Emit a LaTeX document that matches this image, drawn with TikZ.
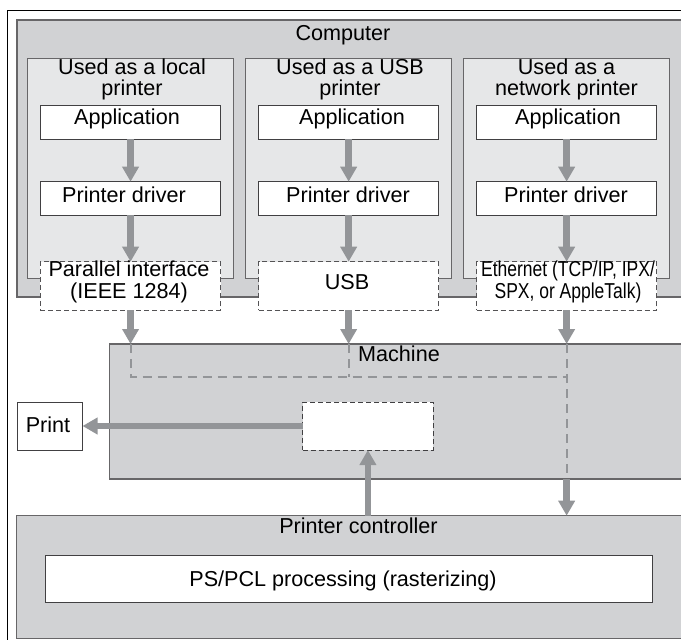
\documentclass[tikz,border=0pt]{standalone}
\usepackage{fontspec}
\setmainfont{Liberation Sans}
\usetikzlibrary{arrows.meta}
\definecolor{cgray}{HTML}{D1D2D4}
\definecolor{lgray}{HTML}{E6E7E8}
\definecolor{agray}{HTML}{939598}
\definecolor{bdark}{HTML}{414042}
\begin{document}
\begin{tikzpicture}[x=1pt,y=-1pt,
  every node/.style={inner sep=0pt,outer sep=0pt},
  txt/.style={font=\fontsize{21.6}{21.5}\selectfont,anchor=base,align=center},
  bx/.style={anchor=north west,draw=bdark,line width=1pt},
  graybox/.style={bx,fill=cgray,draw=bdark!80,line width=1.2pt},
  subbox/.style={bx,fill=lgray,draw=bdark!80,minimum width=206pt,minimum height=220.4pt},
  whitebox/.style={bx,fill=white,minimum width=180.3pt,minimum height=33.6pt},
  ifbox/.style={bx,fill=white,dash pattern=on 5pt off 3pt,draw=bdark!90,minimum width=180.3pt,minimum height=48.3pt},
  arr/.style={draw=agray,line width=6.5pt,-{Triangle[width=16pt,length=15pt]}},
  dsh/.style={draw=agray,line width=2pt,dash pattern=on 9pt off 6pt}]
\useasboundingbox (0,0) rectangle (681,640);
\clip (0,0) rectangle (681,640);
% outer frame
\draw[black,line width=1.2pt] (7.5,700) -- (7.5,10.3) -- (700,10.3);
% computer
\node[graybox,minimum width=665pt,minimum height=277pt] (comp) at (17,20) {};
\node[txt] (tcomp) at (343,40.5) {Computer};
\node[subbox] (sub1) at (27.4,58.3) {};
\node[subbox] (sub2) at (245.4,58.3) {};
\node[subbox] (sub3) at (463.5,58.3) {};
\node[txt] (tu1) at (132,95.5) {Used as a local\\printer};
\node[txt] (tu2) at (350,95.5) {Used as a USB\\printer};
\node[txt] (tu3) at (566.5,95.5) {Used as a\\network printer};
\node[whitebox] (app1) at (40.4,105.7) {};
\node[whitebox] (app2) at (258.5,105.7) {};
\node[whitebox] (app3) at (476.5,105.7) {};
\node[txt] (ta1) at (127,124) {Application};
\node[txt] (ta2) at (352,124) {Application};
\node[txt] (ta3) at (568,124) {Application};
\node[whitebox] (drv1) at (40.4,181.7) {};
\node[whitebox] (drv2) at (258.5,181.7) {};
\node[whitebox] (drv3) at (476.5,181.7) {};
\node[txt] (td1) at (124,202.7) {Printer driver};
\node[txt] (td2) at (348,202.7) {Printer driver};
\node[txt] (td3) at (566,202.7) {Printer driver};
\node[ifbox] (par) at (40.4,261.7) {};
\node[ifbox] (usb) at (258.5,261.7) {};
\node[ifbox] (eth) at (476.5,261.7) {};
\node[txt] (tpar) at (129,298.2) {Parallel interface\\(IEEE 1284)};
\node[txt] (tusb) at (347,289.3) {USB};
\node[txt] (teth) at (568,298.2) {\scalebox{0.81}[1]{Ethernet (TCP/IP, IPX/}\\\scalebox{0.81}[1]{SPX, or AppleTalk)}};
% machine
\node[graybox,minimum width=573pt,minimum height=135pt] (mach) at (109.5,344) {};
\node[txt] (tmach) at (399,361.7) {Machine};
\coordinate (dy) at (0,377);
\draw[dsh] (par.south |- mach.north) -- (par.south |- dy) -- (eth.south |- dy);
\draw[dsh] (usb.south |- mach.north) -- (usb.south |- dy);
\draw[dsh] (eth.south |- mach.north) -- (eth.south |- mach.south);
\node[bx,fill=white,dash pattern=on 5pt off 3pt,minimum width=130.2pt,minimum height=48pt] (inner) at (302.8,402) {};
\node[bx,fill=white,minimum width=65.5pt,minimum height=48pt] (print) at (17,402) {};
\node[txt] (tprint) at (48,432.7) {Print};
% printer controller
\node[graybox,minimum width=666pt,minimum height=122.8pt] (pc) at (16.7,515.7) {};
\node[txt] (tpc) at (358.5,533.3) {Printer controller};
\node[bx,fill=white,minimum width=606.9pt,minimum height=47.7pt] (ps) at (45.6,555) {};
\node[txt] (tps) at (343,586) {PS/PCL processing (rasterizing)};
% arrows
\draw[arr] (app1) -- (drv1);
\draw[arr] (app2) -- (drv2);
\draw[arr] (app3) -- (drv3);
\draw[arr] (drv1) -- (par);
\draw[arr] (drv2) -- (usb);
\draw[arr] (drv3) -- (eth);
\draw[arr] (par) -- (par.south |- mach.north);
\draw[arr] (usb) -- (usb.south |- mach.north);
\draw[arr] (eth) -- (eth.south |- mach.north);
\draw[arr] (eth.south |- mach.south) -- (eth.south |- pc.north);
\draw[arr] (inner.south |- pc.north) -- (inner.south);
\draw[arr] (inner) -- (print);
\end{tikzpicture}
\end{document}
